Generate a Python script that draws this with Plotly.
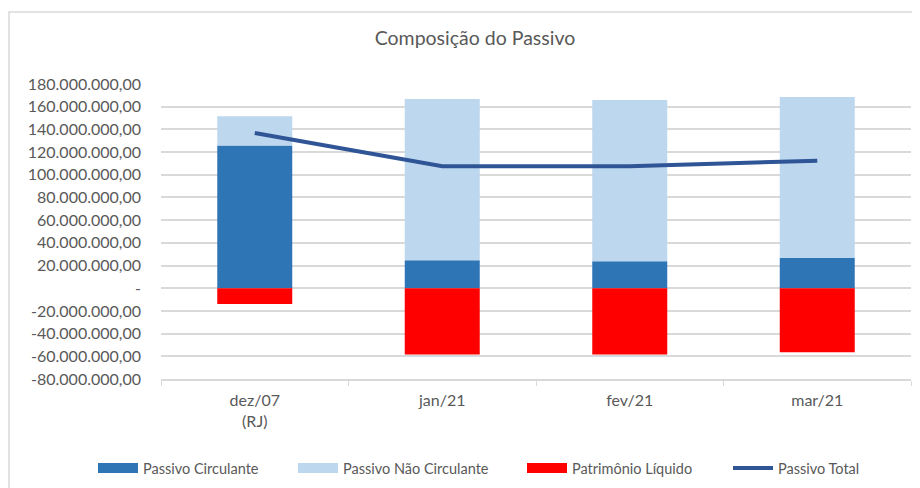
import plotly.graph_objects as go

categories = ["dez/07<br>(RJ)", "jan/21", "fev/21", "mar/21"]
passivo_circulante = [125.9e6, 24.7e6, 23.8e6, 26.8e6]
passivo_nao_circulante = [25.6e6, 142.1e6, 142.1e6, 141.7e6]
patrimonio_liquido = [-13.8e6, -58.5e6, -58.5e6, -56.5e6]
passivo_total = [136.8e6, 107.6e6, 107.4e6, 112.4e6]

tick_vals = [180e6, 160e6, 140e6, 120e6, 100e6, 80e6, 60e6, 40e6, 20e6, 0,
             -20e6, -40e6, -60e6, -80e6]
tick_text = ["180.000.000,00", "160.000.000,00", "140.000.000,00", "120.000.000,00",
             "100.000.000,00", "80.000.000,00", "60.000.000,00", "40.000.000,00",
             "20.000.000,00", "-", "-20.000.000,00", "-40.000.000,00",
             "-60.000.000,00", "-80.000.000,00"]

FONT = "Lato"
GRAY = "#595959"
C_CIRC = "#2E75B6"
C_NCIRC = "#BDD7EE"
C_PL = "#FF0000"
C_TOT = "#2F5597"

# page is offset by the 8px body margin; figure coords = page coords - 8
OFF = 8
W, H = 920 - OFF, 488 - OFF
L, T = 161 - OFF, 84 - OFF
R = W - (911 - OFF)
B = H - (379 - OFF)
pw = W - L - R
ph = H - T - B

fig = go.Figure()
fig.add_trace(go.Bar(name="Passivo Circulante", x=categories, y=passivo_circulante,
                     marker=dict(color=C_CIRC, line=dict(width=0)), showlegend=False))
fig.add_trace(go.Bar(name="Passivo Não Circulante", x=categories, y=passivo_nao_circulante,
                     marker=dict(color=C_NCIRC, line=dict(width=0)), showlegend=False))
fig.add_trace(go.Bar(name="Patrimônio Líquido", x=categories, y=patrimonio_liquido,
                     marker=dict(color=C_PL, line=dict(width=0)), showlegend=False))
fig.add_trace(go.Scatter(name="Passivo Total", x=categories, y=passivo_total,
                         mode="lines", line=dict(color=C_TOT, width=4), showlegend=False))

# legend entries (wide rectangular swatches like the original), each in its own legend
legend_items = [("Passivo Circulante", C_CIRC, 10, 93),
                ("Passivo Não Circulante", C_NCIRC, 10, 293),
                ("Patrimônio Líquido", C_PL, 10, 522),
                ("Passivo Total", C_TOT, 4, 728)]
legend_layout = {}
for i, (nm, col, w, px) in enumerate(legend_items):
    key = "legend" if i == 0 else f"legend{i+1}"
    fig.add_trace(go.Scatter(name=nm, x=[None], y=[None], mode="lines",
                             line=dict(color=col, width=w), showlegend=True,
                             legend=key))
    legend_layout[key] = dict(orientation="h", x=(px - OFF - L) / pw, xanchor="left",
                              y=-((468 - OFF) - (T + ph)) / ph, yanchor="middle",
                              font=dict(size=14.5, color=GRAY, family=FONT),
                              itemwidth=40, bgcolor="rgba(0,0,0,0)")

fig.update_layout(
    width=W, height=H,
    barmode="relative", bargap=0.6,
    margin=dict(l=L, r=R, t=T, b=B, autoexpand=False),
    paper_bgcolor="white", plot_bgcolor="white",
    font=dict(family=FONT, color=GRAY, size=14),
    title=dict(text="Composição do Passivo", x=(475 - OFF) / W, xanchor="center",
               y=1 - (38 - OFF) / H, yanchor="middle",
               font=dict(size=19.5, color=GRAY, family=FONT)),
    xaxis=dict(showgrid=False, showline=True, linecolor="#d9d9d9", linewidth=1.5,
               ticks="outside", tickson="boundaries", ticklen=5, tickcolor="#d9d9d9",
               ticklabelstandoff=6,
               tickfont=dict(size=16, color=GRAY)),
    yaxis=dict(range=[-80e6, 180e6], tickvals=tick_vals, ticktext=tick_text,
               showgrid=True, gridcolor="#d9d9d9", gridwidth=1.5,
               zeroline=False, showline=False, ticks="",
               ticklabelstandoff=19,
               tickfont=dict(size=16, color=GRAY)),
    shapes=[dict(type="rect", xref="paper", yref="paper",
                 x0=(9 - OFF - L) / pw, x1=(945 - OFF - L) / pw,
                 y0=-(520 - OFF - T - ph) / ph, y1=1 + (T - (12 - OFF)) / ph,
                 line=dict(color="#d9d9d9", width=1.5), fillcolor="rgba(0,0,0,0)",
                 layer="below")],
    **legend_layout,
)

fig.write_html("out.html")
